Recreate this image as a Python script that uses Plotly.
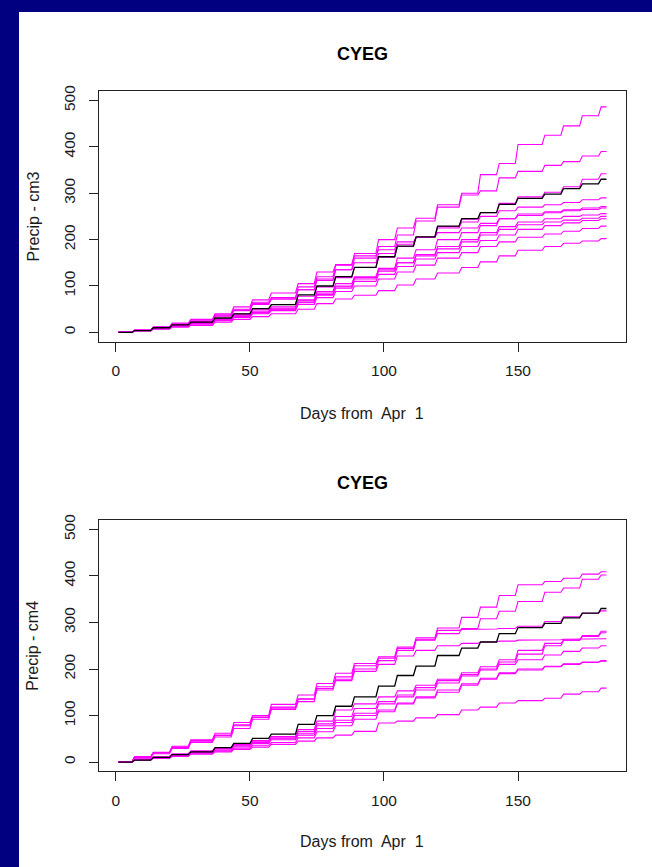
import plotly.graph_objects as go

# ---------------- data ----------------
n_days = 183
step_days = [6, 13, 20, 27, 36, 43, 50, 57, 67, 74, 81, 88, 97, 104, 111, 119,
             128, 135, 142, 149, 159, 166, 173, 180]
x_ticks = [0, 50, 100, 150]
y_ticks = [0, 100, 200, 300, 400, 500]

observed = [0, 4, 10, 16, 22, 31, 40, 51, 60, 81, 100, 120, 140, 163, 186, 206,
            229, 245, 258, 276, 289, 298, 310, 320, 330]

cm3_1 = [0, 5, 11, 18, 26, 38, 50, 65, 75, 98, 120, 145, 170, 200, 225, 246, 275, 300, 340, 364, 405, 425, 445, 467, 486]
cm3_2 = [0, 4, 10, 17, 24, 35, 47, 60, 72, 92, 112, 135, 160, 185, 210, 240, 270, 296, 305, 333, 347, 360, 368, 380, 390]
cm3_3 = [0, 4, 9, 15, 22, 30, 40, 50, 60, 78, 98, 118, 140, 162, 185, 205, 228, 244, 258, 278, 292, 302, 314, 330, 342]
cm3_4 = [0, 5, 11, 17, 24, 36, 48, 62, 72, 92, 115, 135, 150, 170, 190, 205, 225, 238, 250, 262, 270, 275, 280, 286, 290]
cm3_5 = [0, 4, 9, 14, 20, 28, 36, 44, 52, 68, 85, 100, 118, 138, 160, 178, 200, 215, 230, 245, 255, 260, 264, 268, 271]
cm3_6 = [0, 5, 12, 20, 28, 40, 55, 70, 85, 105, 130, 146, 165, 178, 195, 205, 215, 225, 235, 245, 252, 258, 262, 265, 268]
cm3_7 = [0, 4, 10, 15, 21, 30, 38, 46, 55, 70, 88, 105, 120, 135, 150, 165, 180, 195, 210, 222, 232, 238, 242, 246, 250]
cm3_8 = [0, 3, 8, 13, 18, 26, 35, 43, 50, 65, 80, 95, 110, 125, 142, 158, 172, 185, 198, 210, 222, 230, 236, 241, 245]
cm3_9 = [0, 4, 9, 14, 19, 25, 32, 40, 47, 60, 75, 88, 100, 115, 130, 145, 160, 172, 185, 195, 205, 212, 218, 224, 229]
cm3_10 = [0, 3, 7, 11, 15, 22, 28, 34, 40, 50, 62, 72, 80, 90, 102, 115, 128, 140, 152, 165, 177, 185, 192, 197, 202]
cm3_11 = [0, 4, 8, 13, 18, 25, 34, 42, 50, 64, 82, 98, 115, 132, 150, 168, 185, 200, 215, 228, 238, 245, 250, 253, 256]

cm4_1 = [0, 12, 21, 34, 48, 62, 85, 100, 124, 144, 169, 191, 212, 226, 247, 267, 288, 311, 333, 358, 381, 388, 395, 404, 409]
cm4_2 = [0, 11, 20, 32, 46, 58, 80, 97, 118, 136, 155, 183, 207, 223, 244, 263, 276, 287, 308, 324, 345, 365, 374, 393, 402]
cm4_3 = [0, 10, 18, 29, 42, 54, 72, 92, 113, 130, 158, 175, 195, 210, 228, 240, 250, 255, 258, 260, 262, 263, 264, 264, 265]
cm4_4 = [0, 11, 20, 31, 45, 57, 78, 96, 116, 135, 162, 178, 200, 218, 240, 262, 283, 285, 286, 287, 292, 302, 312, 320, 325]
cm4_5 = [0, 7, 12, 18, 24, 30, 38, 46, 55, 70, 88, 112, 125, 140, 153, 165, 178, 192, 205, 220, 240, 255, 262, 272, 281]
cm4_6 = [0, 6, 11, 16, 22, 28, 35, 42, 50, 62, 78, 90, 105, 125, 144, 160, 175, 188, 200, 215, 232, 250, 262, 270, 278]
cm4_7 = [0, 6, 11, 16, 22, 29, 37, 45, 52, 66, 82, 98, 115, 130, 140, 155, 170, 185, 198, 210, 220, 230, 238, 245, 250]
cm4_8 = [0, 5, 10, 15, 20, 26, 33, 40, 48, 58, 72, 85, 100, 112, 127, 140, 155, 168, 180, 192, 200, 206, 211, 215, 218]
cm4_9 = [0, 5, 9, 14, 19, 24, 30, 36, 42, 52, 65, 78, 92, 108, 125, 138, 150, 165, 178, 190, 198, 205, 210, 214, 217]
cm4_10 = [0, 4, 8, 12, 17, 22, 27, 32, 38, 45, 52, 58, 66, 84, 88, 95, 102, 112, 118, 127, 132, 137, 146, 151, 159]

cm3_series = [cm3_1, cm3_2, cm3_3, cm3_4, cm3_5, cm3_6, cm3_7, cm3_8, cm3_9, cm3_10, cm3_11]
cm4_series = [cm4_1, cm4_2, cm4_3, cm4_4, cm4_5, cm4_6, cm4_7, cm4_8, cm4_9, cm4_10]

# ---------------- helpers ----------------
days = list(range(1, n_days + 1))


def daily(values):
    out = []
    k = 0
    for d in days:
        while k < len(step_days) and d > step_days[k]:
            k += 1
        out.append(values[k])
    return out


W, H = 652, 867
FONT = "Arial, 'Liberation Sans', Helvetica, sans-serif"

# plot boxes in pixels (left, right, top, bottom)
x_left, x_right = 99, 626
panels = [
    dict(top=85.7, bottom=338.0, series=cm3_series, ylab="Precip - cm3", title_y=48, xlab_y=410),
    dict(top=517.7, bottom=770.7, series=cm4_series, ylab="Precip - cm4", title_y=480, xlab_y=841),
]

fig = go.Figure()
annotations = []
for i, p in enumerate(panels, start=1):
    xa = "x" if i == 1 else f"x{i}"
    ya = "y" if i == 1 else f"y{i}"
    for s in p["series"]:
        fig.add_trace(go.Scatter(x=days, y=daily(s), mode="lines",
                                 line=dict(color="#ff00ff", width=1.1),
                                 xaxis=xa, yaxis=ya, showlegend=False, hoverinfo="skip"))
    fig.add_trace(go.Scatter(x=days, y=daily(observed), mode="lines",
                             line=dict(color="#000000", width=1.3),
                             xaxis=xa, yaxis=ya, showlegend=False, hoverinfo="skip"))
    axis_common = dict(showline=True, linecolor="#222222", linewidth=1, mirror=True,
                       ticks="outside", ticklen=9, tickwidth=1, tickcolor="#222222",
                       showgrid=False, zeroline=False,
                       tickfont=dict(family=FONT, size=15.5, color="#1a1a1a"))
    dom_y = [1 - p["bottom"] / H, 1 - p["top"] / H]
    fig.layout[("xaxis" if i == 1 else f"xaxis{i}")] = dict(
        axis_common, domain=[x_left / W, x_right / W], range=[-6.28, 190.28],
        tickvals=x_ticks, anchor=ya, ticklabelstandoff=6)
    fig.layout[("yaxis" if i == 1 else f"yaxis{i}")] = dict(
        axis_common, domain=dom_y, range=[-20, 520], tickvals=y_ticks,
        tickangle=-90, anchor=xa, ticklabelstandoff=8)
    cx = (x_left + x_right) / 2 / W
    annotations.append(dict(text="<b>CYEG</b>", x=cx, y=1 - p["title_y"] / H, xref="paper", yref="paper",
                            showarrow=False, font=dict(family=FONT, size=18, color="#000000"),
                            xanchor="center", yanchor="middle"))
    annotations.append(dict(text="Days from\u00a0 Apr\u00a0 1", x=cx, y=1 - p["xlab_y"] / H,
                            xref="paper", yref="paper", showarrow=False,
                            font=dict(family=FONT, size=16, color="#1a1a1a"),
                            xanchor="center", yanchor="middle"))
    annotations.append(dict(text=p["ylab"], x=33 / W, y=1 - (p["top"] + p["bottom"]) / 2 / H,
                            xref="paper", yref="paper", showarrow=False, textangle=-90,
                            font=dict(family=FONT, size=16, color="#1a1a1a"),
                            xanchor="center", yanchor="middle"))

fig.update_layout(
    width=W, height=H,
    margin=dict(l=0, r=0, t=0, b=0),
    paper_bgcolor="#000080",
    plot_bgcolor="#ffffff",
    annotations=annotations,
    shapes=[dict(type="rect", xref="paper", yref="paper", x0=19 / W, x1=1, y0=0, y1=1 - 6 / H,
                 fillcolor="#ffffff", line=dict(width=0), layer="below")],
)

fig.write_html(
    "out.html",
    config={"displayModeBar": False},
    post_script="document.body.style.margin='0';document.body.style.padding='0';"
                "document.body.style.overflow='hidden';document.body.style.background='#000080';",
)
